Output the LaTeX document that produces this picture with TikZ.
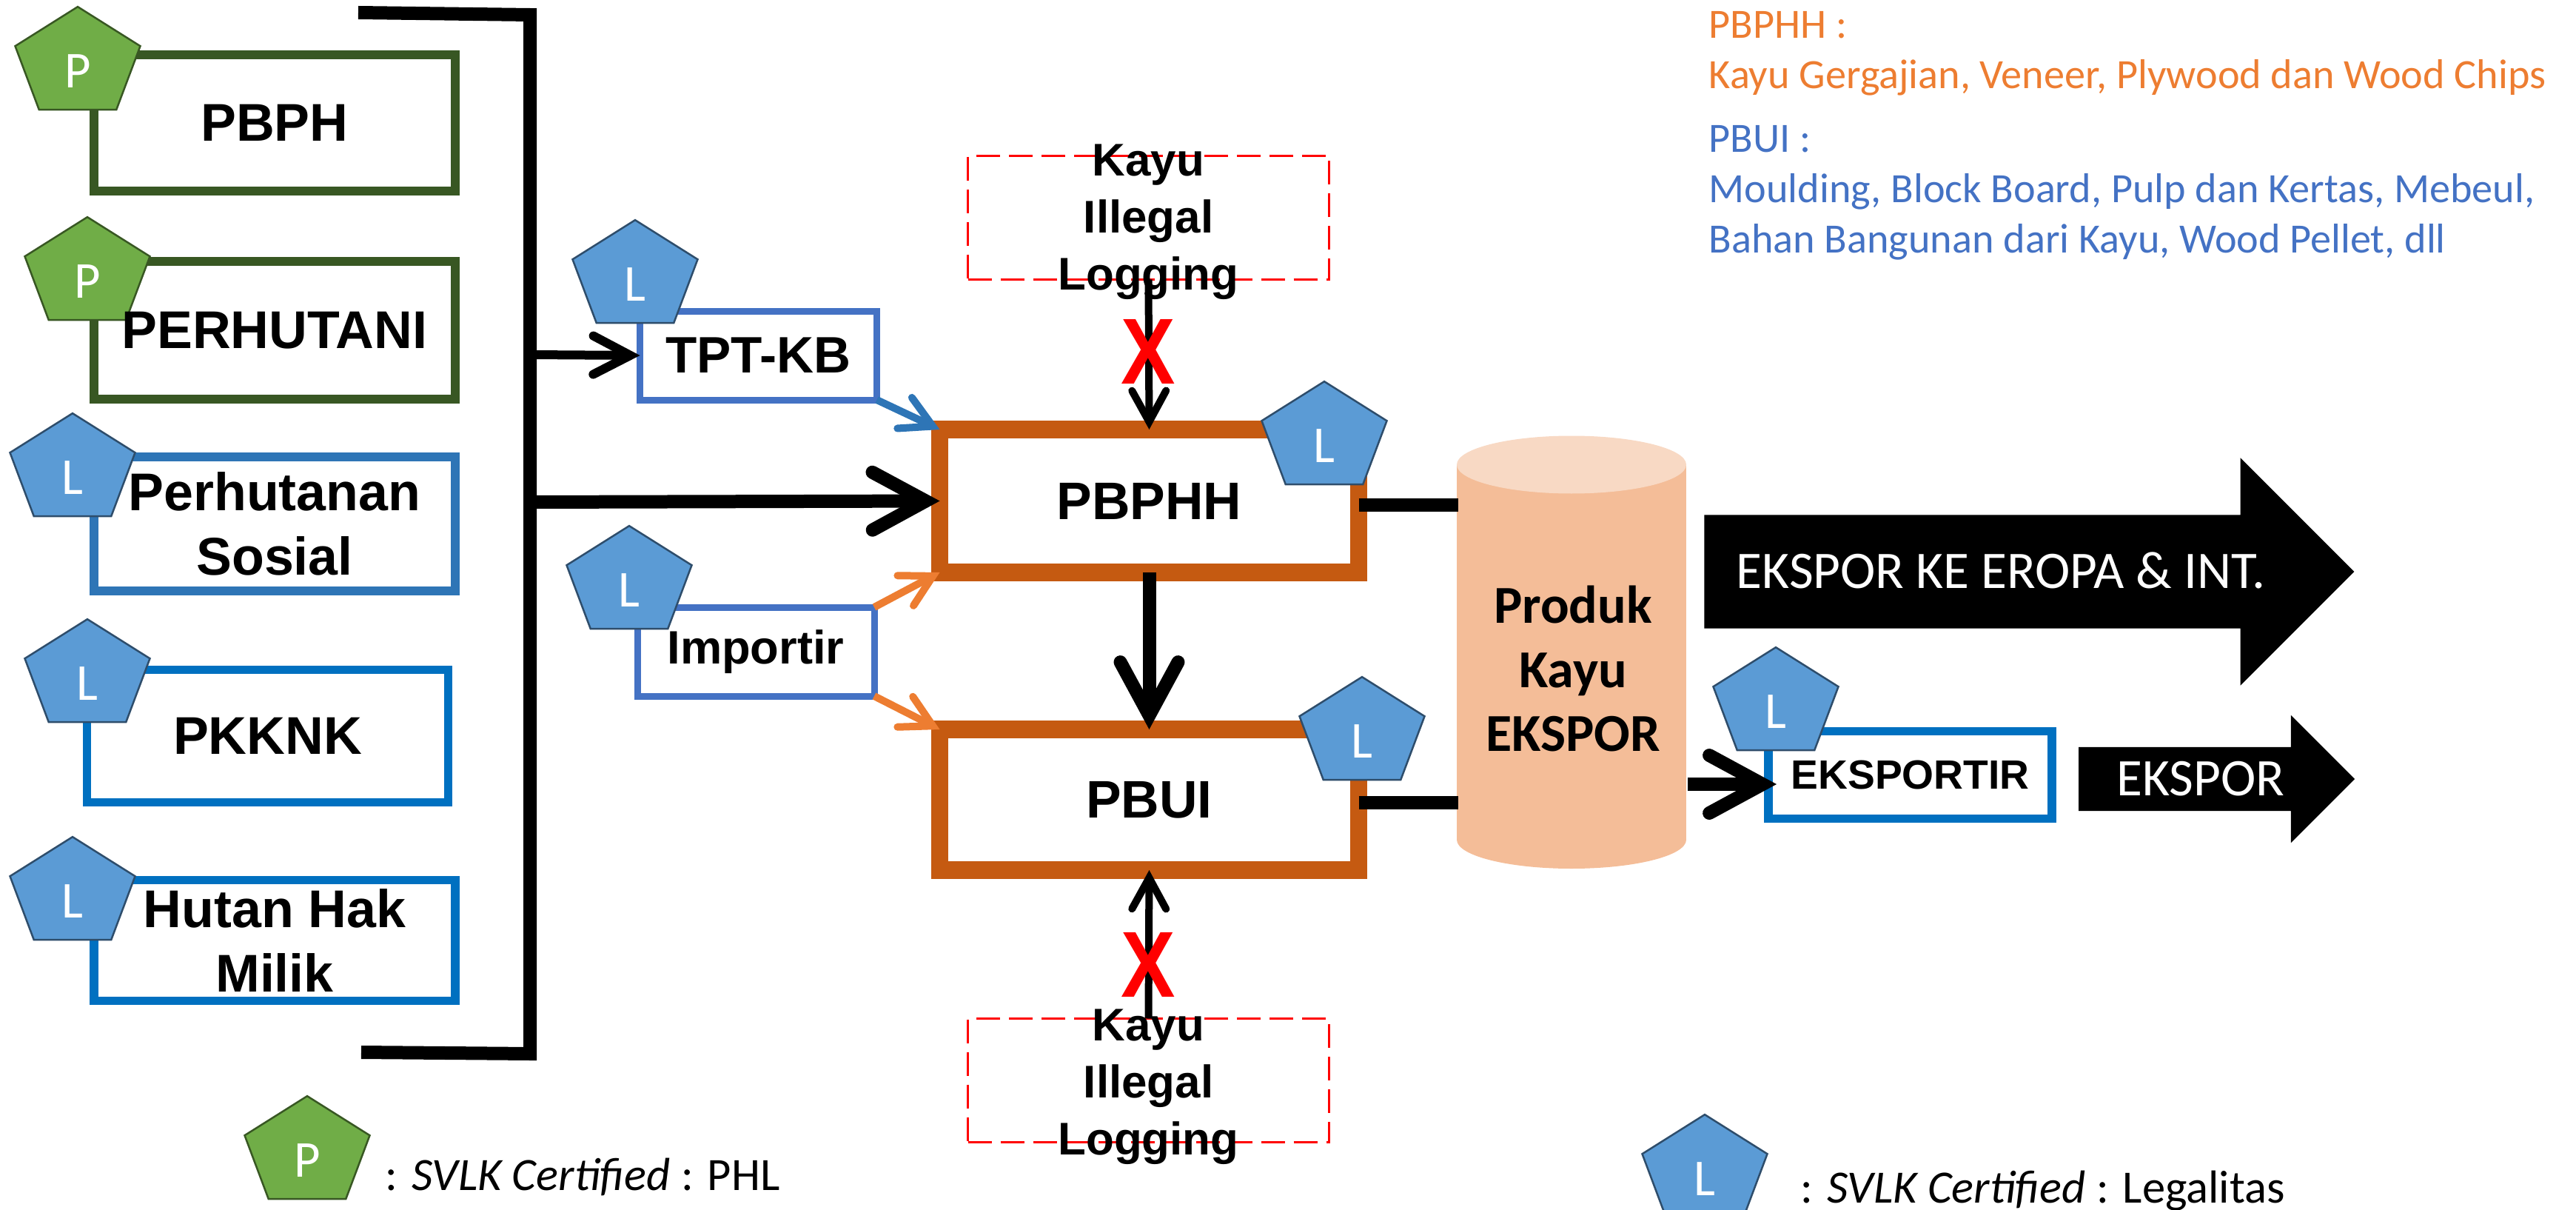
\documentclass[tikz,border=0pt]{standalone}
\usepackage{fontspec}
\usepackage{tikz}
\usetikzlibrary{arrows.meta,shapes.geometric,shapes.arrows}
\setmainfont{Liberation Sans}
\newfontfamily\calibri{Carlito}
\newfontfamily\penfont[FakeStretch=0.85]{Carlito}

\definecolor{dkgreen}{HTML}{385723}
\definecolor{stblue}{HTML}{2E75B6}
\definecolor{prblue}{HTML}{0070C0}
\definecolor{imblue}{HTML}{4472C4}
\definecolor{rust}{HTML}{C55A11}
\definecolor{orng}{HTML}{ED7D31}
\definecolor{penL}{HTML}{5B9BD5}
\definecolor{penP}{HTML}{70AD47}
\definecolor{cylbody}{HTML}{F4BD98}
\definecolor{cyltop}{HTML}{F8D9C4}

\tikzset{
	srcbox/.style={draw=#1,line width=0.115cm,minimum width=4.88cm,outer sep=0pt,inner sep=0pt,
		align=center,font=\bfseries\fontsize{20.4}{24.6}\selectfont},
	midbox/.style={draw=imblue,line width=0.09cm,minimum height=1.2cm,outer sep=0pt,inner sep=0pt,font=\bfseries},
	procbox/.style={draw=rust,line width=0.235cm,minimum width=5.66cm,outer sep=0pt,inner sep=0pt,
		font=\bfseries\fontsize{20.3}{20.3}\selectfont},
	illegalbox/.style={draw=red,line width=0.035cm,dash pattern=on 0.32cm off 0.12cm,minimum width=4.88cm,
		minimum height=1.67cm,outer sep=0pt,inner sep=0pt},
	illegaltext/.style={align=center,inner sep=0pt,font=\bfseries\fontsize{17.6}{21.9}\selectfont},
	penta/.style={regular polygon,regular polygon sides=5,minimum size=1.777cm,inner sep=0pt,outer sep=0pt,
		transform shape,yscale=0.865,line width=0.025cm,text=white,text height=0.75cm,text depth=0pt,
		font=\penfont\fontsize{23}{23}\selectfont},
	pentL/.style={penta,fill=penL,draw=penL!50!black},
	pentP/.style={penta,fill=penP,draw=dkgreen},
	bigarrow/.style={single arrow,single arrow head extend=#1,single arrow tip angle=90,fill=black,
		inner sep=0pt,outer sep=0pt,text=white,font=\calibri\fontsize{20.3}{20.3}\selectfont},
	bar/.style={line width=0.18cm},
	thinar/.style={line width=0.10cm,-{Straight Barb[length=0.42cm,width=0.46cm,line cap=round]}},
	midar/.style={line width=0.12cm,-{Straight Barb[length=0.5cm,width=0.52cm,line cap=round]}},
	thickar/.style={line width=0.18cm,-{Straight Barb[length=0.72cm,width=0.78cm,line cap=round]}},
	cross/.style={text=red,font=\bfseries\fontsize{36}{36}\selectfont,inner sep=0pt},
	notetext/.style={anchor=west,align=left,inner sep=0pt,font=\calibri\fontsize{16}{19.3}\selectfont},
	legendtext/.style={anchor=west,inner sep=0pt,font=\calibri\fontsize{17.8}{20}\selectfont}
}

\begin{document}
\begin{tikzpicture}[x=1cm,y=-1cm]
	\useasboundingbox (0,0) rectangle (34.80,16.34);

	% left column
	\node[srcbox=dkgreen,minimum height=1.84cm] (pbph) at (3.71,1.66) {PBPH};
	\node[srcbox=dkgreen,minimum height=1.86cm] (perhutani) at (3.71,4.46) {};
	\node[srcbox=stblue,minimum height=1.81cm] (sosial) at (3.71,7.075) {Perhutanan\\Sosial};
	\node[srcbox=prblue,minimum height=1.79cm] (pkknk) at (3.615,9.94) {PKKNK};
	\node[srcbox=prblue,minimum height=1.63cm] (hutan) at (3.71,12.70) {Hutan Hak\\Milik};

	% bracket
	\coordinate (brA) at (4.84,0.17);
	\coordinate (brB) at (7.16,0.20);
	\coordinate (brC) at (7.16,14.23);
	\coordinate (brD) at (4.88,14.21);
	\coordinate (brT) at (7.16,4.79);
	\coordinate (brM) at (7.16,6.78);
	\draw[bar] (brA)--(brB)--(brC)--(brD);

	% middle boxes
	\node[midbox,minimum width=3.20cm,font=\bfseries\fontsize{19.7}{19.7}\selectfont] (tptkb) at (10.245,4.80) {TPT-KB};
	\node[midbox,minimum width=3.20cm,font=\bfseries\fontsize{18}{18}\selectfont] (importir) at (10.21,8.80) {Importir};
	\node[procbox,minimum height=1.93cm] (pbphh) at (15.525,6.765) {PBPHH};
	\node[procbox,minimum height=1.90cm] (pbui) at (15.525,10.80) {PBUI};
	\node[illegalbox] (illegalA) at (15.515,2.94) {};
	\node[illegalbox] (illegalB) at (15.515,14.59) {};
	\node[illegaltext] (kayuA) at (15.515,3.00) {Kayu\\Illegal\\Logging};
	\node[illegaltext] (kayuB) at (15.515,14.68) {Kayu\\Illegal\\Logging};

	% cylinder and exporter
	\fill[cylbody] (19.68,6.275) rectangle (22.78,11.34);
	\fill[cylbody] (21.23,11.34) ellipse (1.55 and 0.39);
	\fill[cyltop] (21.23,6.275) ellipse (1.55 and 0.39);
	\node[minimum width=3.10cm,inner sep=0pt,outer sep=0pt,align=center,font=\calibri\bfseries\fontsize{20.5}{24.6}\selectfont] (cyl) at (21.25,9.03) {Produk\\Kayu\\EKSPOR};
	\node[draw=prblue,line width=0.113cm,minimum width=3.83cm,minimum height=1.18cm,outer sep=0pt,
		font=\bfseries\fontsize{15.7}{15.7}\selectfont] (eksportir) at (25.805,10.465) {EKSPORTIR};

	\node[bigarrow=0.77cm,minimum width=3.06cm,minimum height=8.78cm,text height=0.985cm,text depth=0.535cm] (eropa) at (27.03,7.72) {EKSPOR KE EROPA \& INT.\hspace{0.48cm}};
	\node[bigarrow=0.43cm,minimum width=1.71cm,minimum height=3.73cm,text height=0.65cm,text depth=0.20cm] (ekspor) at (29.73,10.52) {EKSPOR};

	% connectors
	\draw[midar] (brT) -- (tptkb.west);
	\draw[thickar] (brM) -- (pbphh.west);
	\draw[thinar,stblue] (tptkb.south east) -- (pbphh.north west);
	\draw[thinar,orng] (importir.north east) -- (pbphh.south west);
	\draw[thinar,orng] (importir.south east) -- (pbui.north west);
	\draw[thickar] (pbphh.south) -- (pbui.north);
	\draw[thinar,black] (illegalA.south) -- (pbphh.north);
	\draw[thinar,black] (illegalB.north) -- (pbui.south);
	\draw[bar] ([yshift=-0.055cm]pbphh.east) -- ([yshift=-0.055cm]pbphh.east -| cyl.west);
	\draw[bar] ([yshift=-0.04cm]pbui.east) -- ([yshift=-0.04cm]pbui.east -| cyl.west);
	\coordinate (ekin) at (24.00,10.59);
	\draw[thickar] (cyl.east |- ekin) -- (ekin);

	\node[cross] (crossA) at (15.51,4.75) {\scalebox{0.87}[1]{X}};
	\node[cross] (crossB) at (15.51,13.03) {\scalebox{0.87}[1]{X}};

	% certificate marks
	\node[pentP] (markA) at (1.05,0.86) {P};
	\node[pentP] (markB) at (1.18,3.70) {P};
	\node[pentL] (markC) at (0.98,6.35) {L};
	\node[pentL] (markD) at (1.18,9.13) {L};
	\node[pentL] (markE) at (0.98,12.07) {L};
	\node[pentL] (markF) at (8.58,3.74) {L};
	\node[pentL] (markG) at (8.50,7.87) {L};
	\node[pentL] (markH) at (17.89,5.92) {L};
	\node[pentL] (markI) at (18.40,9.91) {L};
	\node[pentL] (markJ) at (23.99,9.51) {L};
	\node[font=\bfseries\fontsize{20.4}{20.4}\selectfont,inner sep=0pt] (perhutaniT) at (3.71,4.46) {PERHUTANI};

	% notes
	\node[notetext,text=orng] (noteA) at (23.08,0.72) {PBPHH :\\Kayu Gergajian, Veneer, Plywood dan Wood Chips};
	\node[notetext,text=imblue] (noteB) at (23.08,2.60) {PBUI :\\Moulding, Block Board, Pulp dan Kertas, Mebeul,\\Bahan Bangunan dari Kayu, Wood Pellet, dll};

	% legend
	\node[pentP] (legP) at (4.15,15.57) {P};
	\node[pentL] (legL) at (23.03,15.82) {L};
	\node[legendtext] (legPT) at (5.20,15.89) {: \textit{SVLK Certified} : PHL};
	\node[legendtext] (legLT) at (24.32,16.08) {: \textit{SVLK Certified} : Legalitas};
\end{tikzpicture}
\end{document}
